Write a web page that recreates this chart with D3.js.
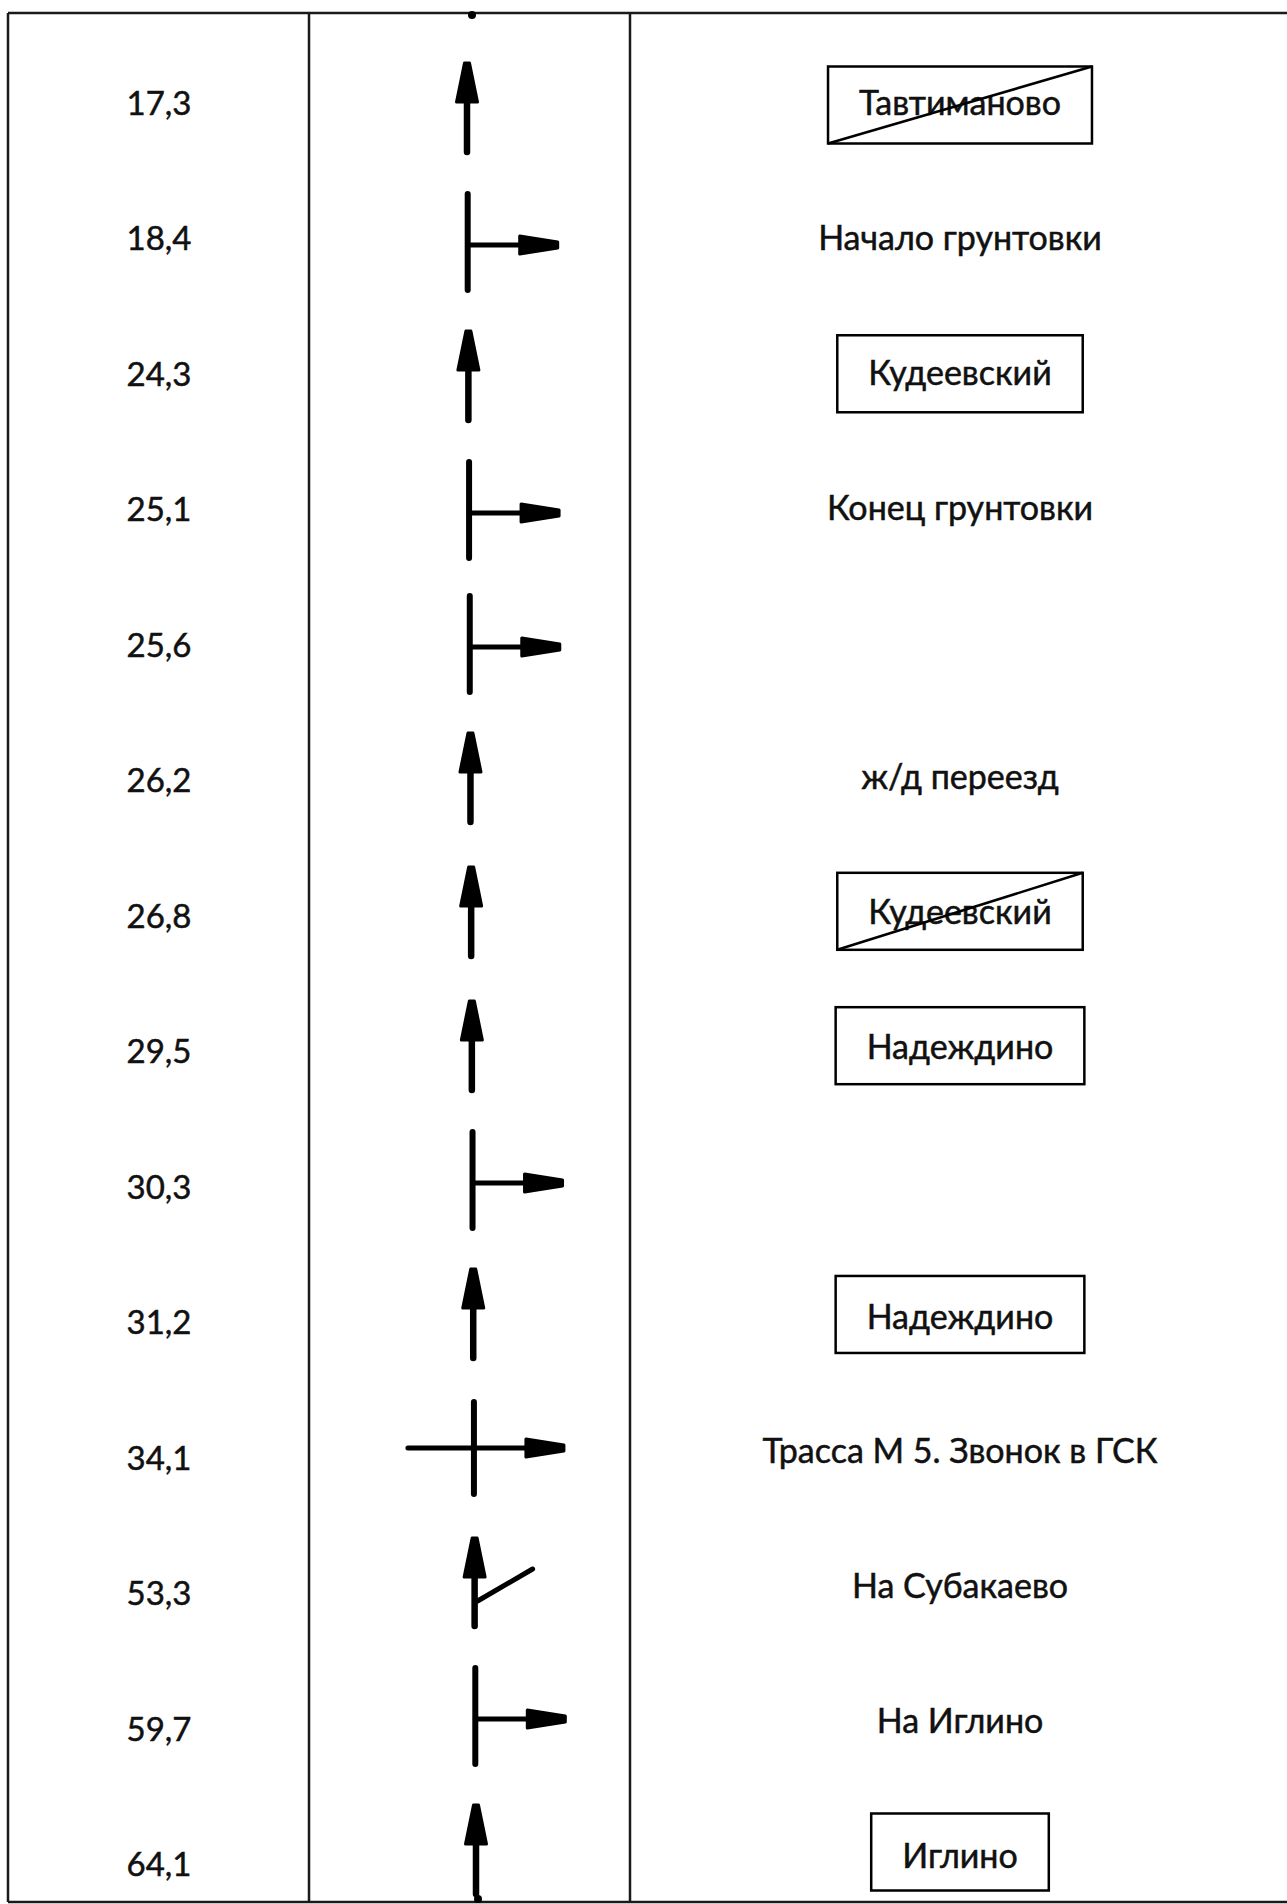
<!DOCTYPE html>
<html>
<head>
<meta charset="utf-8">
<script src="https://cdn.jsdelivr.net/npm/d3@7"></script>
<style>
  body { margin: 0; background: #fff; }
  svg { display: block; }
  text { font-family: Lato, "Open Sans", sans-serif; fill: #111; stroke: #111; stroke-width: 0.5px; }
</style>
</head>
<body>
<div id="chart"></div>
<script>
// distance marks (km) in the left column
const distances = ["17,3", "18,4", "24,3", "25,1", "25,6", "26,2", "26,8", "29,5", "30,3", "31,2", "34,1", "53,3", "59,7", "64,1"];

// what the road does at each mark
const signs = ["straight", "right", "straight", "right", "right", "straight", "straight", "straight", "right", "straight", "cross", "fork", "right", "straight"];

// notes in the right column
const notes = ["Тавтиманово", "Начало грунтовки", "Кудеевский", "Конец грунтовки", "", "ж/д переезд", "Кудеевский", "Надеждино", "", "Надеждино", "Трасса М 5. Звонок в ГСК", "На Субакаево", "На Иглино", "Иглино"];

// settlement signs: "entry" is a boxed name, "exit" is boxed and crossed out
const noteKinds = ["exit", "plain", "entry", "plain", "plain", "plain", "exit", "entry", "plain", "entry", "plain", "plain", "plain", "entry"];

const width = 1287;
const height = 1904;
const tableTop = 13;
const tableBottom = 1902;
const colLines = [8, 309, 630];

const rows = distances.map((d, i) => ({
  i: i,
  dist: d,
  sign: signs[i],
  note: notes[i],
  kind: noteKinds[i]
}));

const last = rows.length - 1;
// baseline of the distance figures
const y = d3.scaleLinear().domain([0, last]).range([115, 1876]);
// baseline of the notes, the right column sits a touch higher at the bottom
const noteY = d3.scaleLinear().domain([0, last]).range([115, 1868]);
// middle of each road symbol and of each name box
const signY = d3.scaleLinear().domain([0, last]).range([108, 1850]);
const boxY = d3.scaleLinear().domain([0, last]).range([105, 1852]);
// the hand drawn road line drifts a little to the right going down
const roadX = d3.scaleLinear().domain([0, last]).range([467, 476]);

const svg = d3.select("#chart").append("svg")
  .attr("width", width)
  .attr("height", height);

// table grid
const grid = svg.append("g")
  .attr("stroke", "#1a1a1a")
  .attr("stroke-width", 2.5);

grid.selectAll("line.h")
  .data([tableTop, tableBottom])
  .enter().append("line")
    .attr("x1", colLines[0]).attr("x2", width)
    .attr("y1", d => d).attr("y2", d => d);

grid.selectAll("line.v")
  .data(colLines)
  .enter().append("line")
    .attr("x1", d => d).attr("x2", d => d)
    .attr("y1", tableTop).attr("y2", tableBottom);

// distance column
svg.selectAll("text.dist")
  .data(rows)
  .enter().append("text")
    .attr("class", "dist")
    .attr("x", 159)
    .attr("y", d => y(d.i))
    .attr("text-anchor", "middle")
    .style("font-size", "33px")
    .text(d => d.dist);

// road symbols, drawn round the middle of the row
function arrowUp(g, top, bottom) {
  g.append("line")
    .attr("x1", 0).attr("x2", 0)
    .attr("y1", bottom).attr("y2", top + 30)
    .attr("stroke", "#000").attr("stroke-width", 6.5).attr("stroke-linecap", "round");
  g.append("path")
    .attr("d", `M-2.5,${top} L2.5,${top} L10.5,${top + 39} L-10.5,${top + 39} Z`)
    .attr("fill", "#000").attr("stroke", "#000")
    .attr("stroke-width", 3).attr("stroke-linejoin", "round");
}

function arrowRight(g, x0, x1, yy) {
  g.append("line")
    .attr("x1", x0).attr("x2", x1 - 30)
    .attr("y1", yy).attr("y2", yy)
    .attr("stroke", "#000").attr("stroke-width", 5).attr("stroke-linecap", "round");
  g.append("path")
    .attr("d", `M${x1 - 38},${yy - 9} L${x1},${yy - 3} L${x1},${yy + 3} L${x1 - 38},${yy + 9} Z`)
    .attr("fill", "#000").attr("stroke", "#000")
    .attr("stroke-width", 3).attr("stroke-linejoin", "round");
}

function stem(g, top, bottom) {
  g.append("line")
    .attr("x1", 0).attr("x2", 0)
    .attr("y1", top).attr("y2", bottom)
    .attr("stroke", "#000").attr("stroke-width", 6).attr("stroke-linecap", "round");
}

const symbols = svg.selectAll("g.sign")
  .data(rows)
  .enter().append("g")
    .attr("class", "sign")
    .attr("transform", d => `translate(${roadX(d.i)},${signY(d.i)})`);

symbols.each(function(d) {
  const g = d3.select(this);
  if (d.sign === "straight") {
    arrowUp(g, -45, 44);
  } else if (d.sign === "right") {
    stem(g, -48, 48);
    arrowRight(g, 0, 90, 3);
  } else if (d.sign === "cross") {
    stem(g, -46, 46);
    arrowRight(g, -66, 90, 0);
  } else if (d.sign === "fork") {
    arrowUp(g, -44, 44);
    g.append("line")
      .attr("x1", 3).attr("y1", 19)
      .attr("x2", 58).attr("y2", -13)
      .attr("stroke", "#000").attr("stroke-width", 5).attr("stroke-linecap", "round");
  }
});

// bits of the road line cut off at the page edges
svg.selectAll("circle.cut")
  .data([[roadX(0) + 5, tableTop + 2], [roadX(last) + 2, tableBottom - 3]])
  .enter().append("circle")
    .attr("cx", d => d[0]).attr("cy", d => d[1])
    .attr("r", 4).attr("fill", "#000");

// notes column
const noteX = 960;
const notesG = svg.selectAll("g.note")
  .data(rows.filter(d => d.note))
  .enter().append("g")
    .attr("class", "note");

notesG.append("text")
  .attr("x", noteX)
  .attr("y", d => noteY(d.i))
  .attr("text-anchor", "middle")
  .style("font-size", "34px")
  .text(d => d.note);

// boxes around settlement names
notesG.filter(d => d.kind !== "plain").each(function(d) {
  const g = d3.select(this);
  const w = g.select("text").node().getBBox().width;
  const pad = 31;
  const bh = 77;
  const bx = noteX - w / 2 - pad;
  const bw = w + 2 * pad;
  const by = boxY(d.i) - bh / 2;
  g.append("rect")
    .attr("x", bx).attr("y", by)
    .attr("width", bw).attr("height", bh)
    .attr("fill", "none").attr("stroke", "#000").attr("stroke-width", 2.5);
  if (d.kind === "exit") {
    g.append("line")
      .attr("x1", bx).attr("y1", by + bh)
      .attr("x2", bx + bw).attr("y2", by)
      .attr("stroke", "#000").attr("stroke-width", 2.5);
  }
});
</script>
</body>
</html>
